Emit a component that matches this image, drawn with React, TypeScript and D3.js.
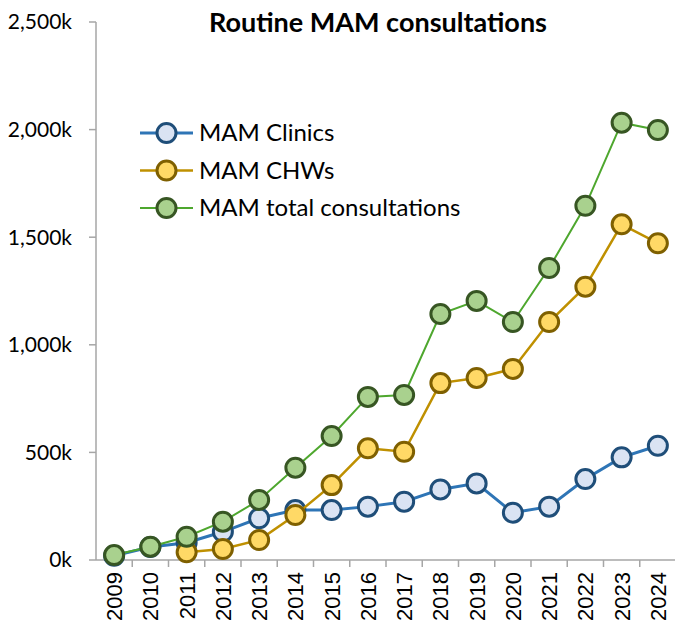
import React from "react";
import * as d3 from "d3";

const years = ["2009", "2010", "2011", "2012", "2013", "2014", "2015", "2016",
  "2017", "2018", "2019", "2020", "2021", "2022", "2023", "2024"];
const clinics = [20, 60, 80, 131, 194, 232, 232, 248, 271, 328, 356, 220, 248, 376, 477, 531];
const chws = [null, null, 36, 51, 93, 209, 348, 519, 503, 822, 846, 888, 1106, 1270, 1560, 1472];
const total = [23, 62, 108, 178, 279, 429, 576, 758, 767, 1143, 1204, 1106, 1357, 1646, 2032, 1998];
const yTicks = [0, 500, 1000, 1500, 2000, 2500];

const series = [
  { name: "MAM Clinics", values: clinics, line: "#2E75B6", stroke: "#1F4E79", fill: "#DAE3F3", width: 3 },
  { name: "MAM CHWs", values: chws, line: "#BF9000", stroke: "#7F6000", fill: "#FFD966", width: 2.5 },
  { name: "MAM total consultations", values: total, line: "#4EA72E", stroke: "#375623", fill: "#A9D18E", width: 2 },
];

const W = 675, H = 624;

export default function App() {
  const x = d3.scaleBand().domain(years).range([96, 676]);
  const y = d3.scaleLinear().domain([0, 2500]).range([560, 22]);
  const cx = (yr: string) => (x(yr) as number) + x.bandwidth() / 2;
  const line = d3.line<[string, number | null]>()
    .defined(d => d[1] != null)
    .x(d => cx(d[0]))
    .y(d => y(d[1] as number));
  const fmt = d3.format(",");

  return (
    <svg width={W} height={H} style={{ position: "absolute", left: 0, top: 0, background: "#fff" }}>
      {/* y axis */}
      <line x1={96} x2={96} y1={22} y2={560} stroke="#A6A6A6" strokeWidth={1.5} />
      {yTicks.map(t => (
        <g key={t}>
          <line x1={89} x2={96} y1={y(t)} y2={y(t)} stroke="#A6A6A6" strokeWidth={1.5} />
          <text x={72} y={y(t)} dy="0.35em" textAnchor="end" fontFamily="Lato, sans-serif" fontSize={21} fill="#000">
            {fmt(t)}k
          </text>
        </g>
      ))}
      {/* x axis */}
      <line x1={96} x2={676} y1={560} y2={560} stroke="#A6A6A6" strokeWidth={1.5} />
      {years.map((yr, i) => (
        <g key={yr}>
          {i > 0 && <line x1={x(yr)} x2={x(yr)} y1={560} y2={567} stroke="#A6A6A6" strokeWidth={1.5} />}
          <text transform={`translate(${cx(yr)},572) rotate(-90)`} dy="0.36em" textAnchor="end"
            fontFamily="'Liberation Sans', Arial, sans-serif" fontSize={22} fill="#000">{yr}</text>
        </g>
      ))}
      {/* series */}
      {series.map(s => {
        const pts = years.map((yr, i) => [yr, s.values[i]] as [string, number | null]);
        return (
          <g key={s.name}>
            <path d={line(pts) || ""} fill="none" stroke={s.line} strokeWidth={s.width} />
            {pts.filter(p => p[1] != null).map(p => (
              <circle key={p[0]} cx={cx(p[0])} cy={y(p[1] as number)} r={9.5} fill={s.fill} stroke={s.stroke} strokeWidth={3} />
            ))}
          </g>
        );
      })}
      {/* title */}
      <text x={378} y={32} textAnchor="middle" fontFamily="Lato, sans-serif" fontWeight="bold" fontSize={27} fill="#000">
        Routine MAM consultations
      </text>
      {/* legend */}
      {series.map((s, i) => {
        const ly = 133 + i * 37.5;
        return (
          <g key={s.name}>
            <line x1={140} x2={193} y1={ly} y2={ly} stroke={s.line} strokeWidth={s.width} />
            <circle cx={166.5} cy={ly} r={9.5} fill={s.fill} stroke={s.stroke} strokeWidth={3} />
            <text x={199} y={ly} dy="0.35em" fontFamily="Lato, sans-serif" fontSize={24} fill="#000">{s.name}</text>
          </g>
        );
      })}
    </svg>
  );
}
